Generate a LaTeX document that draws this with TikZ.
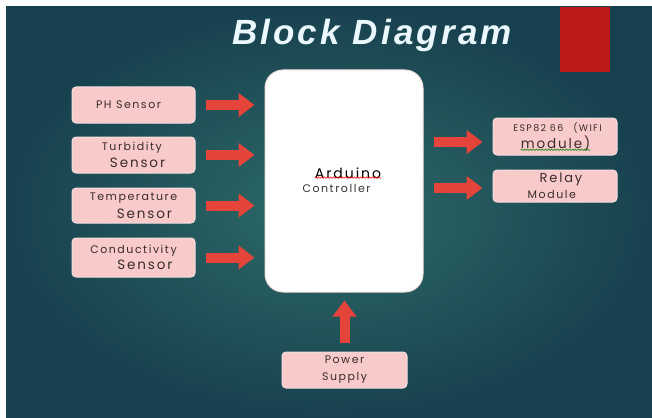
\documentclass[tikz,border=0pt]{standalone}
\usepackage{fontspec}
\usetikzlibrary{arrows.meta,decorations.pathmorphing}
\newfontfamily\titlefont[LetterSpace=9]{Liberation Sans}
\newfontfamily\boxfont[LetterSpace=14]{Poppins}
\definecolor{bgin}{HTML}{2D6C68}
\definecolor{bgout}{HTML}{18414F}
\definecolor{boxpink}{HTML}{F8CACA}
\definecolor{boxline}{HTML}{F3DEDE}
\definecolor{arrowred}{HTML}{E5443B}
\definecolor{slidered}{HTML}{BA1A1A}
\definecolor{boxtext}{HTML}{3A2C2C}
\newcommand{\boxsmall}{\fontsize{11}{12}\selectfont}
\newcommand{\boxbig}{\fontsize{13.5}{13}\selectfont}
\tikzset{
blockbox/.style={
	  draw=boxline, fill=boxpink, rounded corners=4pt, line width=1pt,
	    minimum width=123pt, text=boxtext, font=\boxfont\boxsmall,
    inner sep=0pt, align=left},
feed/.style={
	  draw=arrowred, line width=10pt, -{Triangle[length=16pt, width=23pt]},
	    shorten <=10pt, shorten >=10pt},
wave/.style={
	  decorate, decoration={snake, amplitude=0.8pt, segment length=3pt}, line width=0.5pt}
}

\begin{document}
\begin{tikzpicture}[x=1pt, y=-1pt]
	\useasboundingbox (0,0) rectangle (652,417);
	\fill[white] (0,0) rectangle (652,417);
	\shade[inner color=bgin, outer color=bgout] (6,7) rectangle (652,417);
	\fill[slidered] (560,7) rectangle (610,72);
	\node[text=white!92!cyan, font=\titlefont\fontsize{35}{35}\selectfont\bfseries\itshape,
	anchor=base] (title) at (372,45) {Block Diagram};

	\node[draw=boxline, fill=white, rounded corners=18pt, line width=1pt,
	minimum width=158pt, minimum height=222pt] (ard) at (344,181) {};
	\node[font=\boxfont\fontsize{14}{14}\selectfont, inner sep=0pt] (ardname) at (348,173) {Arduino};
	\node[font=\boxfont\boxsmall, inner sep=0pt, text=black!80] (ardrole) at (336.5,188) {Controller};
	\draw[wave, red] ([yshift=1pt]ardname.south west) -- ([yshift=1pt]ardname.south east);

	\node[blockbox, minimum height=36pt] (ph) at (133.5,105) {PH Sensor\hspace{10pt}};
	\node[blockbox, minimum height=36pt] (turb) at (133.5,155)
	{Turbidity\\[4pt]\hspace{8pt}{\boxbig Sensor}};
	\node[blockbox, minimum height=35pt] (temp) at (133.5,205.5)
	{Temperature\hspace{14pt}\\[5pt]\hspace{27pt}{\boxbig Sensor}};
	\node[blockbox, minimum height=39pt] (cond) at (133.5,257.5)
	{Conductivity\hspace{14pt}\\[3pt]\hspace{27pt}{\boxbig Sensor}};

	\node[blockbox, minimum width=124pt, minimum height=37pt] (esp) at (555,136.5) {};
	\node[font=\boxfont\fontsize{9.5}{10}\selectfont, text=boxtext, inner sep=0pt] (espname) at (557.5,128) {ESP82 66\hspace{10pt}(WIFI};
	\node[font=\boxfont\boxbig, text=boxtext, inner sep=0pt] (espkind) at (555.5,143) {module)};
	\draw[wave, green!50!black] ([yshift=1pt]espkind.south west) -- ([yshift=1pt]espkind.south east);
	\node[blockbox, minimum width=124pt, minimum height=32pt] (relay) at (555,186)
	{\hspace{12pt}{\fontsize{13}{13}\selectfont Relay}\\[4pt]Module};

	\node[blockbox, minimum width=125pt, minimum height=36pt, align=center] (power) at (344.5,370)
	{Power\hspace{4pt}\\[5pt]Supply\hspace{6pt}};

	\draw[feed] (ph.east) -- (ph.east -| ard.west);
	\draw[feed] (turb.east) -- (turb.east -| ard.west);
	\draw[feed] (temp.east) -- (temp.east -| ard.west);
	\draw[feed] (cond.east) -- (cond.east -| ard.west);
	\draw[feed] ([yshift=-5.5pt]esp.west -| ard.east) -- ([yshift=-5.5pt]esp.west);
	\draw[feed] ([yshift=-2pt]relay.west -| ard.east) -- ([yshift=-2pt]relay.west);
	\draw[feed, shorten <=9pt, shorten >=8pt] (power.north) -- (power.north |- ard.south);
\end{tikzpicture}
\end{document}
